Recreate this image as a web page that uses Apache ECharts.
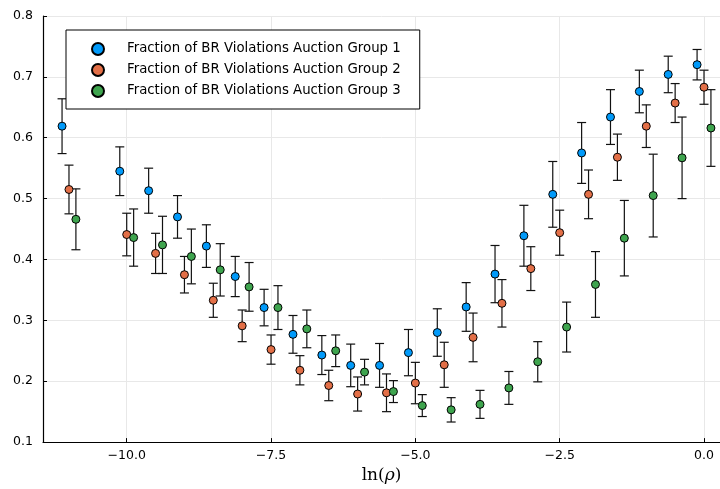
<!DOCTYPE html>
<html>
<head>
<meta charset="utf-8">
<script src="https://cdn.jsdelivr.net/npm/echarts@6/dist/echarts.min.js"></script>
<style>
  html, body { margin: 0; padding: 0; background: #fff; }
  #main { width: 720px; height: 489px; }
</style>
</head>
<body>
<div id="main"></div>
<script>
// ln(rho) positions, each group is shifted a little
var xBase = [-11, -10, -9.5, -9, -8.5, -8, -7.5, -7, -6.5, -6, -5.5, -5, -4.5, -4, -3.5, -3, -2.5, -2, -1.5, -1, -0.5, 0];
var shift = [-0.12, 0, 0.12];

var group1 = [0.619, 0.545, 0.513, 0.470, 0.422, 0.372, 0.321, 0.277, 0.243, 0.226, 0.226, 0.247, 0.280, 0.322, 0.376, 0.439, 0.507, 0.575, 0.634, 0.676, 0.704, 0.720];
var err1 = [0.045, 0.040, 0.037, 0.035, 0.035, 0.033, 0.030, 0.031, 0.032, 0.035, 0.036, 0.038, 0.039, 0.040, 0.047, 0.050, 0.054, 0.050, 0.045, 0.035, 0.030, 0.025];

var group2 = [0.515, 0.441, 0.410, 0.375, 0.333, 0.291, 0.252, 0.218, 0.193, 0.179, 0.181, 0.197, 0.227, 0.272, 0.328, 0.385, 0.444, 0.507, 0.568, 0.619, 0.657, 0.683];
var err2 = [0.040, 0.035, 0.033, 0.030, 0.028, 0.026, 0.024, 0.024, 0.025, 0.028, 0.031, 0.034, 0.037, 0.040, 0.039, 0.036, 0.037, 0.040, 0.038, 0.035, 0.032, 0.028];

var group3 = [0.466, 0.436, 0.424, 0.405, 0.383, 0.355, 0.321, 0.286, 0.250, 0.215, 0.183, 0.160, 0.153, 0.162, 0.189, 0.232, 0.289, 0.359, 0.435, 0.505, 0.567, 0.616];
var err3 = [0.050, 0.047, 0.047, 0.045, 0.043, 0.040, 0.036, 0.031, 0.026, 0.021, 0.018, 0.018, 0.020, 0.023, 0.027, 0.033, 0.041, 0.054, 0.062, 0.068, 0.067, 0.063];

var names = [
  'Fraction of BR Violations Auction Group 1',
  'Fraction of BR Violations Auction Group 2',
  'Fraction of BR Violations Auction Group 3'
];
var colors = ['#009AFA', '#E36F47', '#3EA44E'];
var xTicks = [-10, -7.5, -5, -2.5, 0];

var groups = [group1, group2, group3];
var errs = [err1, err2, err3];

function makeData(k) {
  var d = [];
  for (var i = 0; i < xBase.length; i++) {
    d.push([xBase[i] + shift[k], groups[k][i], errs[k][i]]);
  }
  return d;
}

function errorBar(params, api) {
  var x = api.value(0), y = api.value(1), e = api.value(2);
  var top = api.coord([x, y + e]);
  var bot = api.coord([x, y - e]);
  var w = 4.5;
  var st = { stroke: '#111', lineWidth: 1.2 };
  return {
    type: 'group',
    children: [
      { type: 'line', shape: { x1: top[0], y1: top[1], x2: bot[0], y2: bot[1] }, style: st },
      { type: 'line', shape: { x1: top[0] - w, y1: top[1], x2: top[0] + w, y2: top[1] }, style: st },
      { type: 'line', shape: { x1: bot[0] - w, y1: bot[1], x2: bot[0] + w, y2: bot[1] }, style: st }
    ]
  };
}

var series = [];
for (var k = 0; k < 3; k++) {
  var d = makeData(k);
  series.push({
    type: 'custom',
    renderItem: errorBar,
    data: d,
    encode: { x: 0, y: 1 },
    silent: true
  });
  series.push({
    name: names[k],
    type: 'scatter',
    data: d,
    symbolSize: 8,
    itemStyle: { color: colors[k], borderColor: '#000', borderWidth: 1, opacity: 1 }
  });
}

var myChart = echarts.init(document.getElementById('main'));
var option = {
  animation: false,
  backgroundColor: '#fff',
  grid: { left: 43, right: 0, top: 16, bottom: 43, containLabel: false },
  legend: {
    orient: 'vertical',
    left: 66,
    top: 30,
    padding: [12, 19, 11, 25],
    itemGap: 7,
    itemWidth: 12,
    itemHeight: 12,
    icon: 'circle',
    borderColor: '#000',
    borderWidth: 1,
    backgroundColor: '#fff',
    data: names,
    textStyle: { fontFamily: 'DejaVu Sans', fontSize: 13.3, lineHeight: 12, color: '#000', padding: [0, 0, 0, 18] }
  },
  xAxis: {
    type: 'value',
    min: -11.45,
    max: 0.277,
    name: '{a|ln(}{b|ρ}{a|)}',
    nameLocation: 'middle',
    nameGap: 19,
    nameTextStyle: {
      rich: {
        a: { fontFamily: 'DejaVu Serif', fontSize: 17, color: '#000' },
        b: { fontFamily: 'DejaVu Serif', fontStyle: 'italic', fontSize: 17, color: '#000' }
      }
    },
    axisLine: { show: true, onZero: false, lineStyle: { color: '#000', width: 1.2 } },
    axisTick: { show: true, inside: true, length: 4, customValues: xTicks, lineStyle: { color: '#000' } },
    axisLabel: {
      customValues: xTicks,
      margin: 7,
      fontFamily: 'DejaVu Sans',
      fontSize: 12.5,
      color: '#000',
      formatter: function (v) { return (v < 0 ? '\u2212' : '') + Math.abs(v).toFixed(1); }
    },
    splitLine: { show: true, lineStyle: { color: '#e8e8e8', width: 1 } }
  },
  yAxis: {
    type: 'value',
    min: 0.1,
    max: 0.8,
    interval: 0.1,
    axisLine: { show: true, onZero: false, lineStyle: { color: '#000', width: 1.2 } },
    axisTick: { show: true, inside: true, length: 4, lineStyle: { color: '#000' } },
    axisLabel: {
      margin: 10,
      fontFamily: 'DejaVu Sans',
      fontSize: 12.5,
      color: '#000',
      formatter: function (v) { return v.toFixed(1); }
    },
    splitLine: { show: true, lineStyle: { color: '#e8e8e8', width: 1 } }
  },
  series: series
};
myChart.setOption(option);
</script>
</body>
</html>
